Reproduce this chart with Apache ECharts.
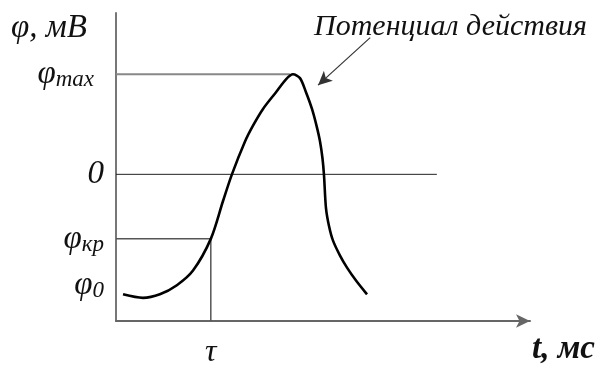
<!DOCTYPE html>
<html>
<head>
<meta charset="utf-8">
<script src="https://cdn.jsdelivr.net/npm/echarts@6/dist/echarts.min.js"></script>
<style>
  html, body { margin: 0; padding: 0; background: #fff; }
  #chart { width: 609px; height: 369px; }
</style>
</head>
<body>
<div id="chart"></div>
<script>
// кривая потенциала действия (время, потенциал) в условных единицах
const curveT   = [1.7, 6.5, 10.6, 14.7, 18.6, 22.9, 25.85, 28.0, 31.16, 33.09, 35.51, 38.65, 41.06, 42.75, 44.44, 45.89, 47.34, 48.43, 49.28, 49.88, 50.24, 50.72, 51.45, 52.42, 54.11, 55.8, 57.97, 60.63];
const curvePhi = [-40.9, -42.1, -40.9, -37.8, -32.8, -22.0, -9.1, 0, 11.2, 16.6, 22.3, 28.0, 32.4, 34.1, 32.8, 28.0, 22.3, 16.6, 11.2, 5.4, -0.3, -11.5, -17.6, -22.6, -27.7, -31.8, -36.2, -40.9];

// уровни потенциала
const phiMax = 34.1;
const phiKr = -22.0;
const phiRest = -37.8;   // положение подписи φ0
const tau = 22.9;
const tPeak = 42.0;
const zeroEnd = 77.5;

// подписи оси
const yLabelValues = [phiRest, phiKr, 0, phiMax];
const yLabelTexts = ['{p|φ}{s|0}', '{p|φ}{s|кр}', '{z|0}', '{p|φ}{m|max}'];

// стрелка к надписи
const arrowFrom = [61.4, 46.6];
const arrowTo = [48.8, 30.4];

const chart = echarts.init(document.getElementById('chart'));

const serif = 'Liberation Serif';
const grey = '#777';

const option = {
    animation: false,
    backgroundColor: '#fff',
    title: [
        {
            text: 'φ, мВ',
            left: 6, top: 7,
            textStyle: { fontFamily: serif, fontStyle: 'italic', fontWeight: 'normal', fontSize: 33, color: '#111' }
        },
        {
            text: 'Потенциал действия',
            left: 309, top: 7,
            textStyle: { fontFamily: serif, fontStyle: 'italic', fontWeight: 'normal', fontSize: 30, color: '#111' }
        },
        {
            text: '{b|t}{i|, мс}',
            left: 527, top: 328,
            textStyle: {
                rich: {
                    b: { fontFamily: serif, fontStyle: 'italic', fontWeight: 'bold', fontSize: 33, color: '#111' },
                    i: { fontFamily: serif, fontStyle: 'italic', fontSize: 33, color: '#111' }
                }
            }
        }
    ],
    grid: { left: 116, right: 79, top: 13, bottom: 45 },
    xAxis: {
        type: 'value',
        min: 0, max: 100,
        axisLine: {
            show: true,
            onZero: false,
            symbol: ['none', 'arrow'],
            symbolSize: [10, 14],
            lineStyle: { color: '#666', width: 2 }
        },
        axisTick: { show: false },
        splitLine: { show: false },
        axisLabel: {
            customValues: [tau],
            formatter: () => 'τ',
            margin: 16,
            fontFamily: serif, fontStyle: 'italic', fontSize: 32, color: '#111'
        }
    },
    yAxis: {
        type: 'value',
        min: -50, max: 55,
        axisLine: { show: true, onZero: false, lineStyle: { color: grey, width: 2 } },
        axisTick: { show: false },
        splitLine: { show: false },
        axisLabel: {
            customValues: yLabelValues,
            formatter: (v) => yLabelTexts[yLabelValues.indexOf(v)],
            margin: 12,
            rich: {
                p: { fontFamily: serif, fontStyle: 'italic', fontSize: 33, color: '#111' },
                s: { fontFamily: serif, fontStyle: 'italic', fontSize: 23, color: '#111', padding: [12, 0, 0, 0] },
                m: { fontFamily: serif, fontStyle: 'italic', fontSize: 23, color: '#111', padding: [12, 10, 0, 0] },
                z: { fontFamily: serif, fontStyle: 'italic', fontSize: 33, color: '#111' }
            }
        }
    },
    series: [
        {
            // линия нуля
            type: 'line',
            data: [[0, 0], [zeroEnd, 0]],
            symbol: 'none',
            lineStyle: { color: '#222', width: 1 },
            z: 1
        },
        {
            // уровень φmax
            type: 'line',
            data: [[0, phiMax], [tPeak, phiMax]],
            symbol: 'none',
            lineStyle: { color: '#888', width: 2 },
            z: 1
        },
        {
            // порог φкр и момент τ
            type: 'line',
            data: [[0, phiKr], [tau, phiKr], [tau, -50]],
            symbol: 'none',
            lineStyle: { color: '#555', width: 1.5 },
            z: 1
        },
        {
            type: 'line',
            data: curveT.map((t, i) => [t, curvePhi[i]]),
            smooth: 0.3,
            symbol: 'none',
            lineStyle: { color: '#000', width: 2.6 },
            z: 3,
            // стрелка к подписи
            markLine: {
                silent: true,
                symbol: ['none', 'arrow'],
                symbolSize: [10, 14],
                label: { show: false },
                lineStyle: { color: '#333', width: 1.2, type: 'solid' },
                data: [[{ coord: arrowFrom }, { coord: arrowTo }]]
            }
        }
    ]
};

chart.setOption(option);
</script>
</body>
</html>
